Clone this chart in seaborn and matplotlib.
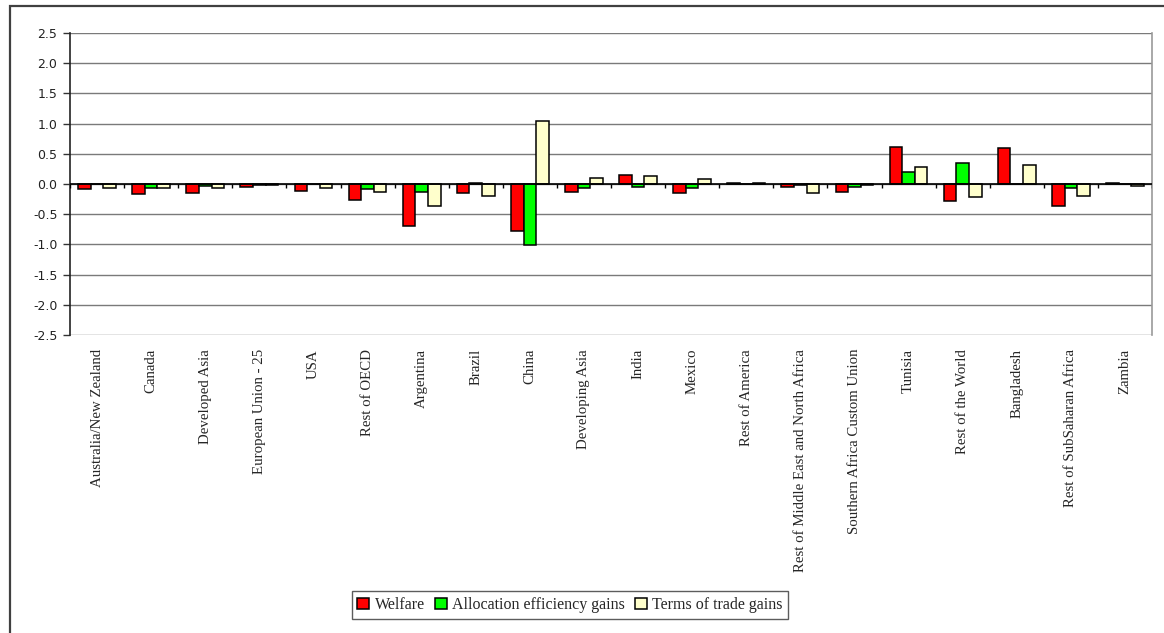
import numpy as np
import pandas as pd
import matplotlib
matplotlib.use("Agg")
import matplotlib.pyplot as plt
import seaborn as sns
from matplotlib.patches import Rectangle

regions = ["Australia/New Zealand", "Canada", "Developed Asia", "European Union - 25",
           "USA", "Rest of OECD", "Argentina", "Brazil", "China", "Developing Asia",
           "India", "Mexico", "Rest of America", "Rest of Middle East and North Africa",
           "Southern Africa Custom Union", "Tunisia", "Rest of the World", "Bangladesh",
           "Rest of SubSaharan Africa", "Zambia"]
welfare = [-0.09, -0.17, -0.155, -0.05, -0.11, -0.26, -0.69, -0.155, -0.77, -0.14,
           0.15, -0.155, 0.02, -0.05, -0.14, 0.62, -0.28, 0.59, -0.37, 0.02]
allocation = [0.0, -0.07, -0.04, -0.02, 0.0, -0.09, -0.13, 0.02, -1.01, -0.07,
              -0.05, -0.07, 0.0, -0.02, -0.05, 0.20, 0.34, 0.0, -0.07, 0.0]
terms_of_trade = [-0.07, -0.07, -0.07, -0.02, -0.07, -0.14, -0.37, -0.20, 1.04, 0.10,
                  0.13, 0.08, 0.02, -0.155, -0.02, 0.28, -0.22, 0.32, -0.20, -0.03]
series = ["Welfare", "Allocation efficiency gains", "Terms of trade gains"]
colors = ["#FF0000", "#00FF00", "#FFFFCC"]
yticks = np.arange(-2.5, 2.51, 0.5)

df = pd.DataFrame({
    "region": regions * 3,
    "series": np.repeat(series, len(regions)),
    "value": welfare + allocation + terms_of_trade,
})

sns.set_style("white")
fig = plt.figure(figsize=(11.64, 6.33), dpi=100)
ax = fig.add_axes([70 / 1164, 1 - 335 / 633, (1152 - 70) / 1164, (335 - 33) / 633])

sns.barplot(data=df, x="region", y="value", hue="series", order=regions,
            hue_order=series, palette=colors, width=0.7, edgecolor="black",
            linewidth=1.1, saturation=1, ax=ax, legend=True)

ax.set_ylim(-2.5, 2.5)
ax.set_xlim(-0.5, len(regions) - 0.5)
ax.set_yticks(yticks)
ax.set_yticklabels([f"{v:.1f}" for v in yticks], fontsize=9, family="DejaVu Sans",
                   color="#222222")
ax.tick_params(axis="y", direction="out", length=5, width=1, color="#333333", left=True,
               pad=4)
for v in yticks:
    ax.axhline(v, color="#7a7a7a", lw=1, zorder=0)
ax.axhline(0, color="black", lw=1.2, zorder=3)

# category boundary ticks on the zero line
bounds = np.arange(-0.5, len(regions), 1.0)
ax.vlines(bounds, -0.07, 0, color="black", lw=1, zorder=3)

ax.set_xticks(range(len(regions)))
ax.set_xticklabels(regions, rotation=90, family="Liberation Serif", fontsize=10.7,
                   va="top", ha="center")
ax.tick_params(axis="x", length=0, pad=10)
ax.set_xlabel("")
ax.set_ylabel("")

for side in ["top", "bottom"]:
    ax.spines[side].set_visible(False)
ax.spines["left"].set_color("#222222")
ax.spines["left"].set_linewidth(1.2)
ax.spines["right"].set_color("#999999")
ax.spines["right"].set_linewidth(1.2)

handles, labels = ax.get_legend_handles_labels()
ax.legend_.remove()
leg = fig.legend(handles, labels, loc="center", bbox_to_anchor=(570 / 1164, 1 - 605 / 633),
                 ncol=3, frameon=True, fancybox=False, edgecolor="#333333",
                 prop={"family": "Liberation Serif", "size": 11.5},
                 handlelength=0.75, handleheight=0.75, handletextpad=0.35,
                 columnspacing=0.6, borderpad=0.35, borderaxespad=0)
leg.get_frame().set_linewidth(1.0)

# outer chart frame (cropped at right and bottom)
fig.patches.append(Rectangle((10 / 1164, -0.05), 1.2, (633 - 6) / 633 + 0.05,
                             transform=fig.transFigure, fill=False,
                             edgecolor="#404040", lw=1.6))

fig.savefig("out.png", dpi=100)
